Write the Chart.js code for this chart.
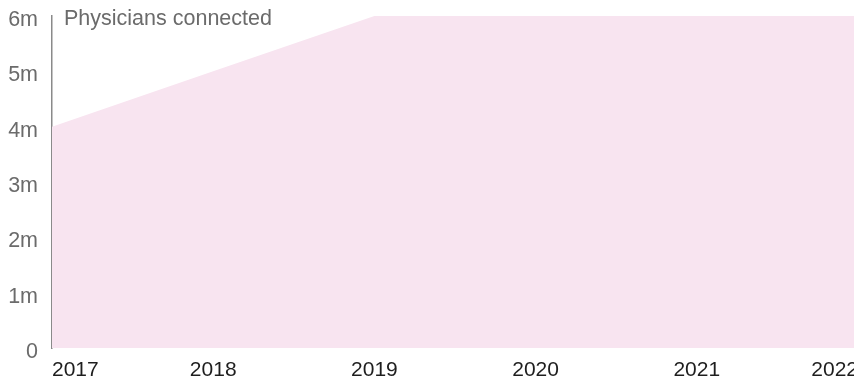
<!DOCTYPE html>
<html>
<head>
<meta charset="utf-8">
<script src="https://cdn.jsdelivr.net/npm/chart.js@4/dist/chart.umd.min.js"></script>
<style>
  html, body { margin: 0; padding: 0; background: #fff; overflow: hidden; }
  #wrap { width: 860px; height: 381px; }
</style>
</head>
<body>
<div id="wrap"><canvas id="physChart" width="860" height="381"></canvas></div>
<script>
// physicians connected, in millions
const years = [2017, 2018, 2019, 2020, 2021, 2022]
const physicians = [4, 5, 6, 6, 6, 6]
const yTicks = [0, 1, 2, 3, 4, 5, 6]
const chartLabel = 'Physicians connected'

const font = 'Liberation Sans, Arial, Helvetica, sans-serif'

// caption in the top-left corner of the plot
const captionPlugin = {
  id: 'caption',
  afterDraw(chart) {
    const { ctx, chartArea } = chart
    ctx.save()
    ctx.font = '21.5px ' + font
    ctx.fillStyle = '#6b6b6b'
    ctx.textBaseline = 'middle'
    ctx.fillText(chartLabel, chartArea.left + 12, chartArea.top + 3)
    ctx.restore()
  }
}

const ctx = document.getElementById('physChart').getContext('2d')
new Chart(ctx, {
  type: 'line',
  data: {
    datasets: [{
      label: chartLabel,
      data: years.map((y, i) => ({ x: y, y: physicians[i] })),
      fill: 'origin',
      backgroundColor: '#f8e4f0',
      borderWidth: 0,
      pointRadius: 0,
      tension: 0
    }]
  },
  options: {
    responsive: false,
    animation: false,
    layout: { padding: { top: 16, right: 2, left: 0, bottom: 0 } },
    plugins: { legend: { display: false }, tooltip: { enabled: false } },
    scales: {
      x: {
        type: 'linear',
        min: years[0],
        max: years[years.length - 1],
        grid: { display: false, drawTicks: false },
        border: { display: false },
        afterFit(axis) {
          axis.height = 33
          axis.paddingLeft = 0
          axis.paddingRight = 0
        },
        ticks: {
          stepSize: 1,
          align: 'inner',
          maxRotation: 0,
          padding: 10,
          color: '#1e1e1e',
          font: { family: font, size: 21 },
          callback: v => String(v)
        }
      },
      y: {
        min: 0,
        max: 6,
        grid: { display: false, drawTicks: false },
        border: { display: true, color: '#8a8a8a', width: 1.5 },
        afterFit(axis) {
          axis.width = 52
          axis.paddingTop = 0
          axis.paddingBottom = 0
        },
        afterBuildTicks(axis) { axis.ticks = yTicks.map(v => ({ value: v })) },
        ticks: {
          padding: 14,
          labelOffset: 4,
          color: '#6b6b6b',
          font: { family: font, size: 21.5 },
          callback: v => v === 0 ? '0' : v + 'm'
        }
      }
    }
  },
  plugins: [captionPlugin]
})
</script>
</body>
</html>
